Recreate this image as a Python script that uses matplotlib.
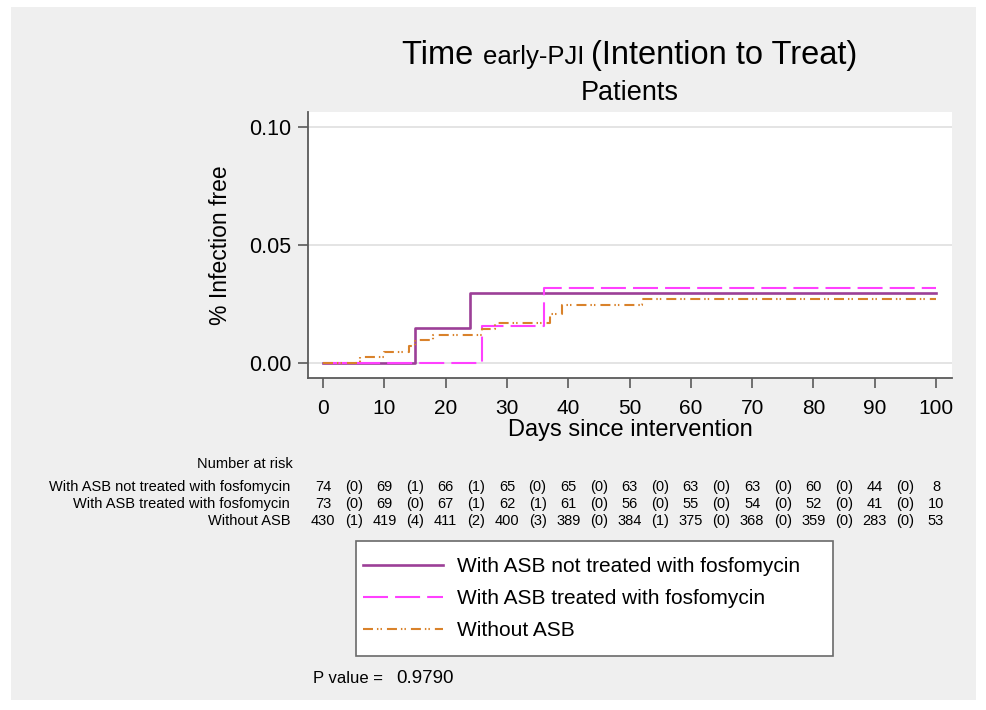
import matplotlib
matplotlib.use("Agg")
import matplotlib.pyplot as plt
from matplotlib.patches import Rectangle
from matplotlib.transforms import blended_transform_factory

plt.rcParams['font.family'] = ['Liberation Sans', 'DejaVu Sans']

# ---------------- data ----------------
groups = ["With ASB not treated with fosfomycin",
          "With ASB treated with fosfomycin",
          "Without ASB"]

t_not_treated = [0, 15, 24, 100]
y_not_treated = [0.0, 0.0149, 0.0298, 0.0298]

t_treated = [0, 26, 36, 100]
y_treated = [0.0, 0.0157, 0.0316, 0.0316]

t_without = [0, 6, 10, 14, 15, 18, 26, 28, 37, 39, 52, 100]
y_without = [0.0, 0.0023, 0.0047, 0.0072, 0.0096, 0.0120, 0.0145, 0.0170,
             0.0208, 0.0247, 0.0273, 0.0273]

risk_times = [0, 10, 20, 30, 40, 50, 60, 70, 80, 90, 100]
risk_not_treated = [74, 69, 66, 65, 65, 63, 63, 63, 60, 44, 8]
cens_not_treated = [0, 1, 1, 0, 0, 0, 0, 0, 0, 0]
risk_treated = [73, 69, 67, 62, 61, 56, 55, 54, 52, 41, 10]
cens_treated = [0, 0, 1, 1, 0, 0, 0, 0, 0, 0]
risk_without = [430, 419, 411, 400, 389, 384, 375, 368, 359, 283, 53]
cens_without = [1, 4, 2, 3, 0, 1, 0, 0, 0, 0]

x_ticks = [0, 10, 20, 30, 40, 50, 60, 70, 80, 90, 100]
y_ticks = [0.0, 0.05, 0.10]
p_value = "0.9790"

# ---------------- figure ----------------
W, H = 986, 710
fig = plt.figure(figsize=(W / 100, H / 100), dpi=100, facecolor='white')
fig.patches.append(Rectangle((11 / W, 1 - 700 / H), (976 - 11) / W, (700 - 7) / H,
                             transform=fig.transFigure, facecolor='#efefef',
                             edgecolor='none', zorder=-10))

ax = fig.add_axes([308 / W, 1 - 378 / H, (952 - 308) / W, (378 - 112) / H])
ax.set_facecolor('white')

purple = '#9c3f97'
magenta = '#ff40ff'
orange = '#d9822b'

l1, = ax.step(t_not_treated, y_not_treated, where='post', color=purple, lw=1.9,
              zorder=3, label=groups[0])
l2, = ax.step(t_treated, y_treated, where='post', color=magenta, lw=1.5,
              zorder=4, label=groups[1])
l2.set_dashes([12, 3.4])
l3, = ax.step(t_without, y_without, where='post', color=orange, lw=1.5,
              zorder=5, label=groups[2])
l3.set_dashes([4.8, 1.9, 0.7, 1.0, 0.7, 2.4])

ax.set_xlim(-2.45, 102.6)
ax.set_ylim(-0.0064, 0.1064)
ax.set_xticks(x_ticks)
ax.set_yticks(y_ticks)
ax.set_yticklabels([f"{v:.2f}" for v in y_ticks])
ax.grid(axis='y', color='#e4e4e4', lw=1.4, zorder=0)
ax.set_axisbelow(True)

for s in ['top', 'right']:
    ax.spines[s].set_visible(False)
for s in ['left', 'bottom']:
    ax.spines[s].set_color('#5a5a5a')
    ax.spines[s].set_linewidth(1.3)
ax.tick_params(axis='both', colors='#5a5a5a', length=7, width=1.2,
               labelsize=15, labelcolor='black')
ax.tick_params(axis='y', labelsize=15.5)
ax.tick_params(axis='x', pad=8)
ax.tick_params(axis='y', pad=5)
ax.set_xlabel("Days since intervention", fontsize=17, labelpad=1)
ax.set_ylabel("% Infection free", fontsize=16.5, labelpad=12)

# ---------------- title ----------------
renderer = fig.canvas.get_renderer()
parts = [("Time ", 23.5), ("early-PJI ", 18.5), ("(Intention to Treat)", 23.5)]
y_base = 1 - 64 / H
texts = [fig.text(0, y_base, s, fontsize=fs, va='baseline', ha='left') for s, fs in parts]
widths = [t.get_window_extent(renderer).width for t in texts]
x = 630 - sum(widths) / 2
for t, w in zip(texts, widths):
    t.set_x(x / W)
    x += w
fig.text(630 / W, 1 - 100 / H, "Patients", fontsize=19.5, ha='center', va='baseline')

# ---------------- number at risk table ----------------
tr = blended_transform_factory(ax.transData, fig.transFigure)
fig.text(293 / W, 1 - 464 / H, "Number at risk", fontsize=10.5, ha='right', va='center')
rows = [(risk_not_treated, cens_not_treated, 487),
        (risk_treated, cens_treated, 504),
        (risk_without, cens_without, 521)]
for (risk, cens, yp), name in zip(rows, groups):
    yf = 1 - yp / H
    fig.text(290 / W, yf, name, fontsize=10.5, ha='right', va='center')
    for tt, n in zip(risk_times, risk):
        ax.text(tt, yf, str(n), transform=tr, fontsize=10.5, ha='center', va='center')
    for i, c in enumerate(cens):
        mid = (risk_times[i] + risk_times[i + 1]) / 2
        ax.text(mid, yf, f"({c})", transform=tr, fontsize=10.5, ha='center', va='center')

# ---------------- legend ----------------
fig.patches.append(Rectangle((356 / W, 1 - 656 / H), (833 - 356) / W, (656 - 541) / H,
                             transform=fig.transFigure, facecolor='white',
                             edgecolor='#6a6a6a', linewidth=1.2, zorder=1))
leg = fig.legend(handles=[l1, l2, l3], loc='upper left',
                 bbox_to_anchor=(363 / W, 1 - 557 / H),
                 borderaxespad=0, fontsize=15, handlelength=3.85,
                 handletextpad=0.65, labelspacing=0.63, borderpad=0,
                 frameon=False)
leg.set_zorder(5)

# ---------------- p value ----------------
fig.text(313 / W, 1 - 683 / H, "P value =", fontsize=12, ha='left', va='baseline')
fig.text(396 / W, 1 - 683 / H, p_value, fontsize=13.5, ha='left', va='baseline')

fig.savefig("out.png", dpi=100, facecolor=fig.get_facecolor())
